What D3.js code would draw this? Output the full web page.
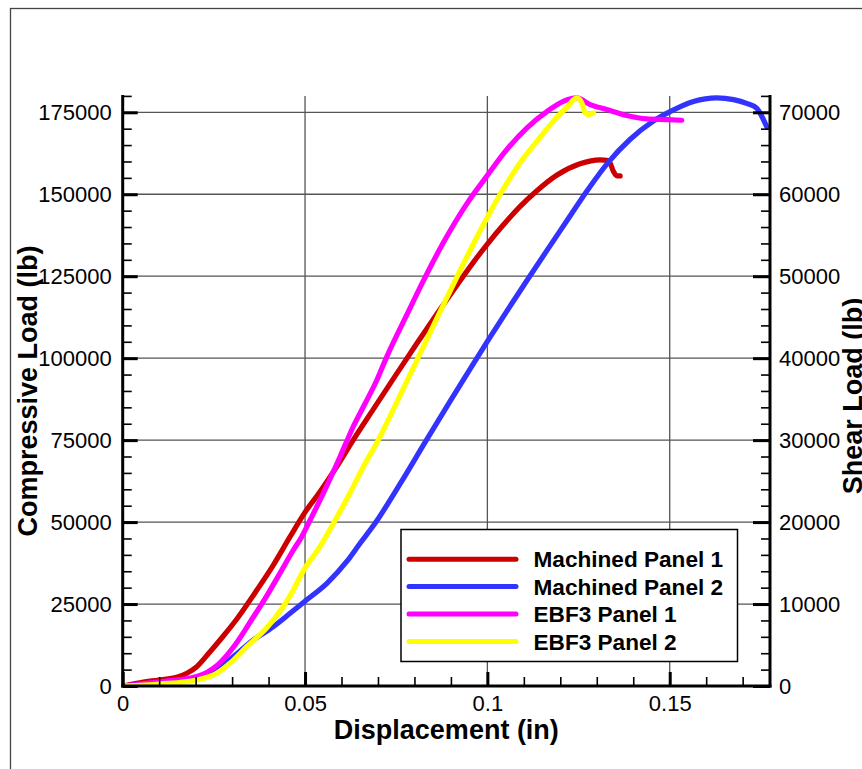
<!DOCTYPE html>
<html><head><meta charset="utf-8">
<script src="https://cdn.jsdelivr.net/npm/d3@7"></script>
<style>body{margin:0;background:#fff}svg{display:block}</style>
</head><body>
<svg id="chart" width="862" height="769"></svg>
<script>
// ---- data (displacement in, compressive load lb) ----
const seriesNames = ["Machined Panel 1", "Machined Panel 2", "EBF3 Panel 1", "EBF3 Panel 2"];
const seriesColors = ["#cc0000", "#3333ff", "#ff00ff", "#ffff00"];

const machined1X = [0,0.0047,0.0098,0.0148,0.0176,0.0203,0.0239,0.0276,0.0313,0.0368,0.0413,0.0459,0.0498,0.0541,0.0587,0.0632,0.0687,0.0751,0.0806,0.0861,0.0916,0.0962,0.1,0.1044,0.109,0.1135,0.119,0.1254,0.1309,0.1332,0.1346,0.1355,0.1364];
const machined1Y = [0,1000,1830,2650,3870,5890,10370,15250,20440,29280,36900,45540,52670,59260,66890,75030,84400,95200,104400,113400,122200,129300,134810,140700,146300,151000,155800,159300,160500,160300,156900,155600,155600];

const machined2X = [0,0.0102,0.0203,0.0258,0.0303,0.0358,0.0413,0.0459,0.0498,0.056,0.0614,0.0651,0.0692,0.0761,0.0829,0.0898,0.0943,0.1,0.1053,0.1108,0.1163,0.1218,0.1273,0.1332,0.1391,0.1455,0.1501,0.1565,0.1629,0.1675,0.1711,0.1739,0.1753,0.1766];
const machined2Y = [0,1000,2500,4880,8940,14030,18090,22170,25710,31320,37910,43520,49620,61700,74300,86900,95000,105100,114300,123600,132800,141900,151000,159800,166700,172300,175200,178300,179400,178870,177720,176190,173650,170600];

const ebf1X = [0,0.0102,0.0203,0.0262,0.0308,0.0353,0.0395,0.0431,0.0468,0.0491,0.0514,0.055,0.0596,0.0632,0.066,0.0697,0.0724,0.0779,0.0824,0.0879,0.0943,0.0998,0.1053,0.1108,0.1163,0.1208,0.1245,0.1282,0.1327,0.1382,0.1437,0.1492,0.1533];
const ebf1Y = [0,1300,2900,6600,12500,20130,27500,34370,41480,45540,50630,58770,69930,79080,85180,93330,100400,113200,123500,135200,147000,155450,163590,170200,175220,178360,179380,177350,175830,174000,172980,172780,172570];

const ebf2X = [0,0.0102,0.0203,0.0258,0.0294,0.034,0.0395,0.044,0.0468,0.0495,0.0541,0.0578,0.0623,0.066,0.0701,0.0742,0.0779,0.0815,0.087,0.0925,0.098,0.1035,0.109,0.1145,0.1181,0.1218,0.1245,0.1259,0.1268,0.1277,0.1291];
const ebf2Y = [0,610,1830,3870,6920,11990,17750,24190,29280,35100,42490,49620,58770,66890,75030,84300,92900,101300,114100,126700,138800,150000,159600,167400,172300,176500,179380,177860,174810,174300,174810];

const xTickValues = [0, 0.05, 0.1, 0.15];
const xTickLabels = ["0", "0.05", "0.1", "0.15"];
const leftTickValues = [0, 25000, 50000, 75000, 100000, 125000, 150000, 175000];
const rightTickValues = [0, 10000, 20000, 30000, 40000, 50000, 60000, 70000];
const xTitle = "Displacement (in)";
const leftTitle = "Compressive Load (lb)";
const rightTitle = "Shear Load (lb)";

// ---- layout ----
const L = 122.7, R = 770, T = 95.9, B = 686;
const svg = d3.select("#chart");

const x = d3.scaleLinear().domain([0, 0.1775]).range([L, R]);
const y = d3.scaleLinear().domain([0, 180000]).range([B, T]);
const y2 = d3.scaleLinear().domain([0, 72000]).range([B, T]);

const FONT = "'Liberation Sans', Arial, Helvetica, sans-serif";

// outer frame
svg.append("rect").attr("x", 10.5).attr("y", 8.5).attr("width", 900).attr("height", 900)
  .attr("fill", "none").attr("stroke", "#444").attr("stroke-width", 1.3);

// grid
const grid = svg.append("g").attr("stroke", "#555").attr("stroke-width", 1.3);
grid.selectAll("line.v").data(xTickValues.filter(d => d > 0)).join("line")
  .attr("class", "v")
  .attr("x1", d => x(d)).attr("x2", d => x(d)).attr("y1", T).attr("y2", B);
grid.selectAll("line.h").data(leftTickValues.filter(d => d > 0)).join("line")
  .attr("class", "h")
  .attr("x1", L).attr("x2", R).attr("y1", d => y(d)).attr("y2", d => y(d));

// curves
const series = [
  {name: seriesNames[0], color: seriesColors[0], xs: machined1X, ys: machined1Y},
  {name: seriesNames[1], color: seriesColors[1], xs: machined2X, ys: machined2Y},
  {name: seriesNames[2], color: seriesColors[2], xs: ebf1X, ys: ebf1Y},
  {name: seriesNames[3], color: seriesColors[3], xs: ebf2X, ys: ebf2Y}
];
svg.append("clipPath").attr("id", "clip").append("rect")
  .attr("x", L).attr("y", T - 6).attr("width", R - L).attr("height", B - T + 6);
const line = d3.line().x(d => x(d[0])).y(d => y(d[1])).curve(d3.curveMonotoneX);
svg.append("g").attr("clip-path", "url(#clip)")
  .selectAll("path").data(series).join("path")
  .attr("d", s => line(s.xs.map((v, i) => [v, s.ys[i]])))
  .attr("fill", "none").attr("stroke", s => s.color)
  .attr("stroke-width", 5.2).attr("stroke-linecap", "round").attr("stroke-linejoin", "round");

// axes
function styleAxis(g, major) {
  g.selectAll(".tick line").attr("stroke", "#000").attr("stroke-width", major ? 3 : 1.6);
  g.selectAll("text").attr("font-family", FONT).attr("font-size", 22).attr("fill", "#000");
}
const minorLeft = d3.range(0, 180001, 5000);
const minorRight = d3.range(0, 72001, 2000);
const minorX = d3.range(0, 18).map(i => i / 100);

// left
svg.append("g").attr("transform", `translate(${L},0)`)
  .call(d3.axisLeft(y).tickValues(minorLeft).tickSize(-9).tickSizeOuter(0).tickFormat(""))
  .call(g => { g.select(".domain").remove(); styleAxis(g, false); });
svg.append("g").attr("transform", `translate(${L},0)`)
  .call(d3.axisLeft(y).tickValues(leftTickValues).tickSize(-15).tickSizeOuter(0).tickPadding(11).tickFormat(d3.format("d")))
  .call(g => { g.select(".domain").remove(); styleAxis(g, true); });
// right
svg.append("g").attr("transform", `translate(${R},0)`)
  .call(d3.axisRight(y2).tickValues(minorRight).tickSize(-9).tickSizeOuter(0).tickFormat(""))
  .call(g => { g.select(".domain").remove(); styleAxis(g, false); });
svg.append("g").attr("transform", `translate(${R},0)`)
  .call(d3.axisRight(y2).tickValues(rightTickValues).tickSize(-17).tickSizeOuter(0).tickPadding(9).tickFormat(d3.format("d")))
  .call(g => { g.select(".domain").remove(); styleAxis(g, true); });
// bottom
svg.append("g").attr("transform", `translate(0,${B})`)
  .call(d3.axisBottom(x).tickValues(minorX).tickSize(-9).tickSizeOuter(0).tickFormat(""))
  .call(g => { g.select(".domain").remove(); styleAxis(g, false); });
svg.append("g").attr("transform", `translate(0,${B})`)
  .call(d3.axisBottom(x).tickValues(xTickValues).tickSize(-14).tickSizeOuter(0).tickPadding(9)
    .tickFormat((d, i) => xTickLabels[i]))
  .call(g => { g.select(".domain").remove(); styleAxis(g, true); });

// axis lines
const axl = svg.append("g").attr("stroke", "#000").attr("stroke-width", 3);
axl.append("line").attr("x1", L).attr("x2", L).attr("y1", T - 1).attr("y2", B + 1.5);
axl.append("line").attr("x1", R).attr("x2", R).attr("y1", T - 1).attr("y2", B + 1.5);
axl.append("line").attr("x1", L - 1.5).attr("x2", R + 1.5).attr("y1", B).attr("y2", B);

// titles
svg.append("text").attr("x", (L + R) / 2).attr("y", 738.5).attr("text-anchor", "middle")
  .attr("font-family", FONT).attr("font-weight", "bold").attr("font-size", 27).text(xTitle);
svg.append("text").attr("transform", `translate(37,${(T + B) / 2}) rotate(-90)`).attr("text-anchor", "middle")
  .attr("font-family", FONT).attr("font-weight", "bold").attr("font-size", 27).text(leftTitle);
svg.append("text").attr("transform", `translate(862,396) rotate(-90)`).attr("text-anchor", "middle")
  .attr("font-family", FONT).attr("font-weight", "bold").attr("font-size", 27).text(rightTitle);

// legend
const lg = svg.append("g");
lg.append("rect").attr("x", 401).attr("y", 529.5).attr("width", 336.5).attr("height", 132)
  .attr("fill", "#fff").attr("stroke", "#000").attr("stroke-width", 1.5);
const rowY = [559.2, 586.6, 614, 641.5];
const items = lg.selectAll("g.item").data(series).join("g").attr("class", "item");
items.append("line").attr("x1", 409).attr("x2", 516)
  .attr("y1", (d, i) => rowY[i]).attr("y2", (d, i) => rowY[i])
  .attr("stroke", d => d.color).attr("stroke-width", 5).attr("stroke-linecap", "round");
items.append("text").attr("x", 533.5).attr("y", (d, i) => rowY[i]).attr("dy", "0.36em")
  .attr("font-family", FONT).attr("font-weight", "bold").attr("font-size", 22.6).text(d => d.name);
</script>
</body></html>
